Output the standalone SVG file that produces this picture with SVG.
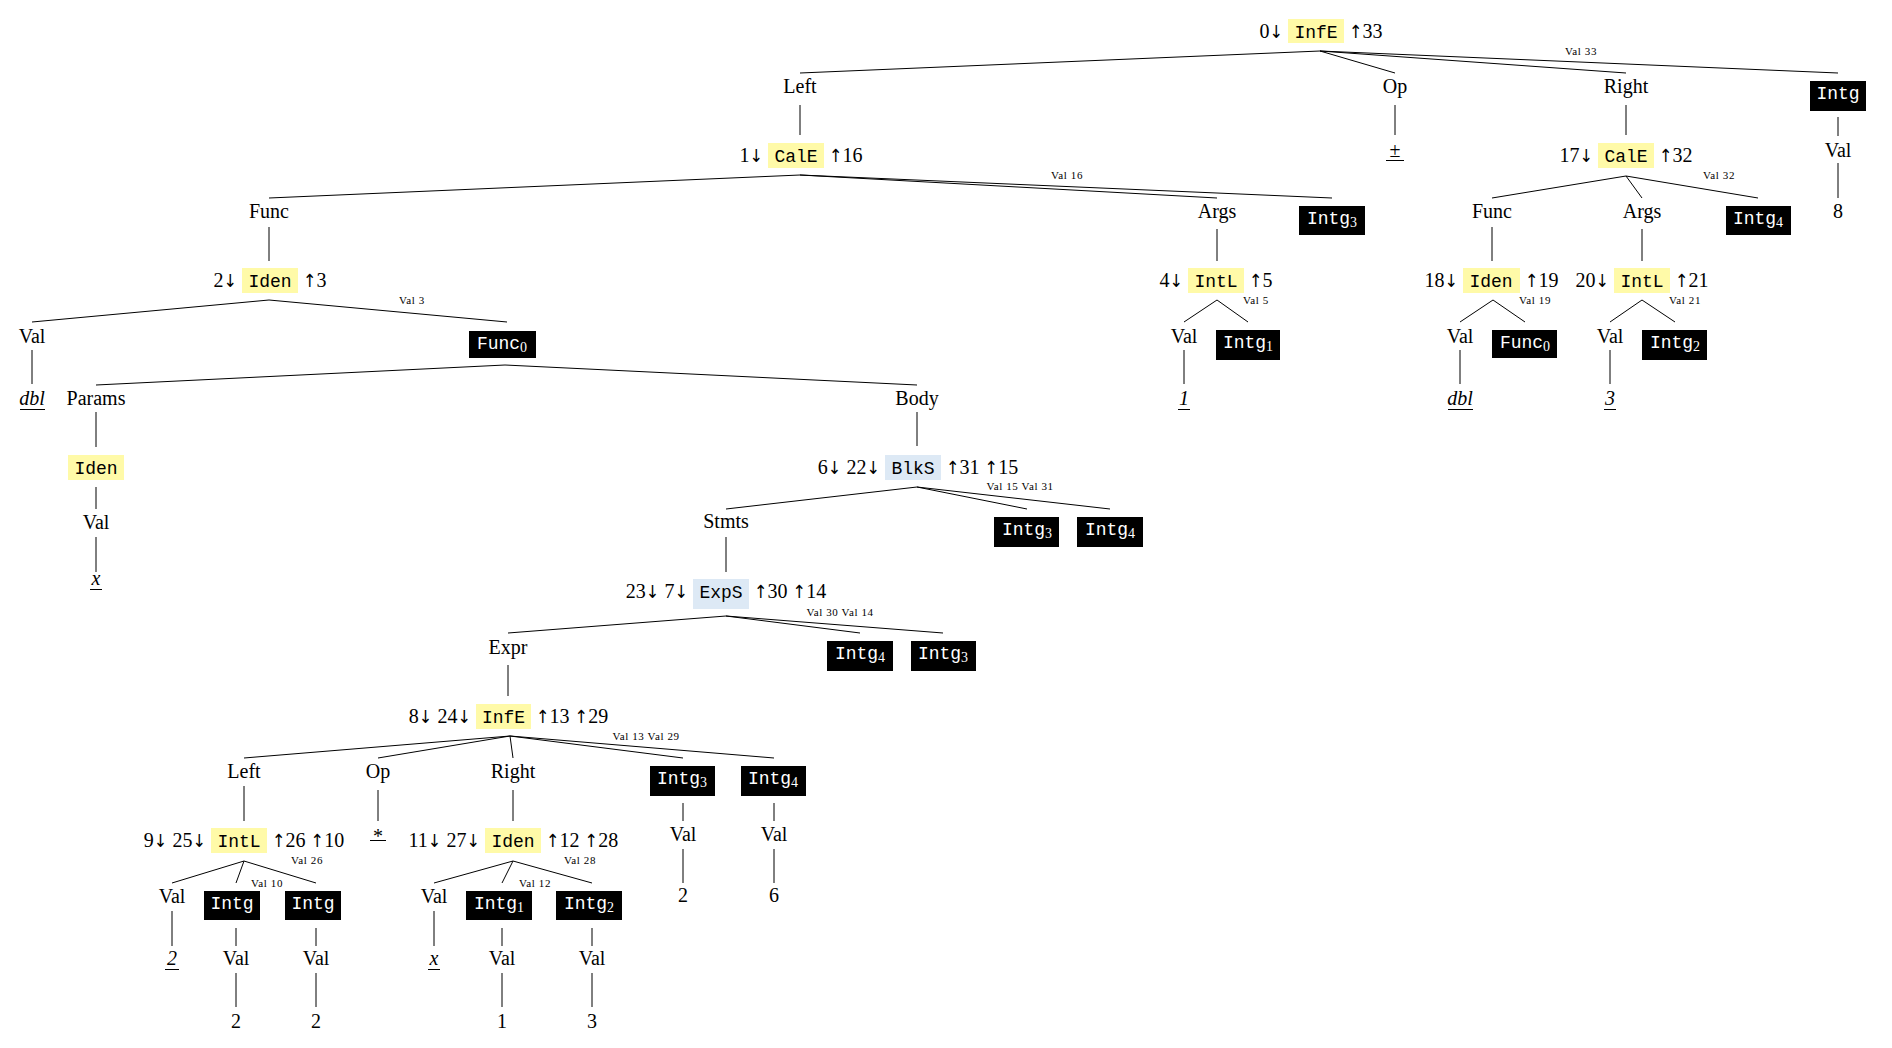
<svg xmlns="http://www.w3.org/2000/svg" width="1892" height="1048" viewBox="0 0 1892 1048">
<style>
.t{font-family:"Liberation Serif","Times New Roman",serif;font-size:20px;text-anchor:middle;fill:#000}
.l{font-family:"Liberation Serif","Times New Roman",serif;font-size:20px;text-anchor:end;fill:#000}
.r{font-family:"Liberation Serif","Times New Roman",serif;font-size:20px;text-anchor:start;fill:#000}
.a{font-family:"DejaVu Sans Condensed","DejaVu Sans",sans-serif;font-size:18px;font-weight:200}
.i{font-style:italic}
.tt{font-family:"Liberation Mono","Courier New",monospace;font-size:18px;text-anchor:middle;fill:#000}
.tw{font-family:"Liberation Mono","Courier New",monospace;font-size:18px;text-anchor:middle;fill:#fff}
.sub{font-family:"Liberation Serif","Times New Roman",serif;font-size:14px}
.s{font-family:"Liberation Serif","Times New Roman",serif;font-size:11px;text-anchor:middle;letter-spacing:0.6px;fill:#000}
.y{fill:#fffaa8}
.b{fill:#dde9f5}
.k{fill:#000}
.ln{stroke:#000;stroke-width:1;fill:none}
</style>
<rect width="1892" height="1048" fill="#fff"/>
<g id="connectors" class="ln">
<path d="M1320 51L800 73M1320 51L1395 73M1320 51L1626 73M1320 51L1838 73"/>
<path d="M800 105V135M1395 105V135M1626 105V135M1838 117V136M1838 163V198"/>
<path d="M800 175L269 198M800 175L1217 198M800 175L1332 198"/>
<path d="M1626 176L1492 198M1626 176L1642 198M1626 176L1758 198"/>
<path d="M269 227V261M1217 229V261M1492 227V261M1642 229V261"/>
<path d="M269 300L32 322M269 300L507 322"/>
<path d="M1217 300L1184 322M1217 300L1248 322"/>
<path d="M1493 300L1460 322M1493 300L1525 322"/>
<path d="M1642 300L1610 322M1642 300L1675 322"/>
<path d="M32 350V384M1184 350V384M1460 350V384M1610 350V384"/>
<path d="M505 365L96 385M505 365L917 385"/>
<path d="M96 412V447M917 412V446M96 487V509M96 537V572"/>
<path d="M917 487L726 509M917 487L1027 509M917 487L1110 509"/>
<path d="M726 537V572"/>
<path d="M726 616L508 633M726 616L860 633M726 616L943 633"/>
<path d="M508 665V696"/>
<path d="M510 736L244 758M510 736L378 758M510 736L513 758M510 736L683 758M510 736L774 758"/>
<path d="M244 786V821M378 790V821M513 790V821M683 803V821M774 803V821M683 849V883M774 849V883"/>
<path d="M244 861L172 883M244 861L236 883M244 861L316 883"/>
<path d="M513 861L434 883M513 861L502 883M513 861L592 883"/>
<path d="M172 911V946M236 928V946M316 928V946M434 911V946M502 928V946M592 928V946"/>
<path d="M236 973V1007M316 973V1007M502 973V1007M592 973V1007"/>
</g>
<g id="labels">
<text class="s" x="1581" y="55">Val 33</text>
<text class="s" x="1067" y="179">Val 16</text>
<text class="s" x="1719" y="179">Val 32</text>
<text class="s" x="412" y="304">Val 3</text>
<text class="s" x="1256" y="304">Val 5</text>
<text class="s" x="1535" y="304">Val 19</text>
<text class="s" x="1685" y="304">Val 21</text>
<text class="s" x="1020" y="490">Val 15 Val 31</text>
<text class="s" x="840" y="616">Val 30 Val 14</text>
<text class="s" x="646" y="740">Val 13 Val 29</text>
<text class="s" x="307" y="864">Val 26</text>
<text class="s" x="267" y="887">Val 10</text>
<text class="s" x="580" y="864">Val 28</text>
<text class="s" x="535" y="887">Val 12</text>
</g>
<g id="n0"><rect class="y" x="1288" y="19" width="56" height="24"/><text class="tt" x="1316" y="38">InfE</text><text class="l" x="1283" y="38">0<tspan class="a">↓</tspan></text><text class="r" x="1349" y="38"><tspan class="a">↑</tspan>33</text></g>
<g id="n-left1"><text class="t" x="800" y="93">Left</text></g>
<g id="n-op1"><text class="t" x="1395" y="93">Op</text></g>
<g id="n-right1"><text class="t" x="1626" y="93">Right</text></g>
<g id="n-intg-top"><rect class="k" x="1810" y="81" width="56" height="30"/><text class="tw" x="1838" y="99">Intg</text></g>
<g id="n1"><rect class="y" x="768" y="143" width="56" height="25"/><text class="tt" x="796" y="162">CalE</text><text class="l" x="763" y="162">1<tspan class="a">↓</tspan></text><text class="r" x="829" y="162"><tspan class="a">↑</tspan>16</text></g>
<g id="n-pm"><text class="t" x="1395" y="157">±</text><path class="ln" d="M1386 160.5H1404"/></g>
<g id="n17"><rect class="y" x="1598" y="143" width="56" height="25"/><text class="tt" x="1626" y="162">CalE</text><text class="l" x="1593" y="162">17<tspan class="a">↓</tspan></text><text class="r" x="1659" y="162"><tspan class="a">↑</tspan>32</text></g>
<g id="n-val-top"><text class="t" x="1838" y="157">Val</text></g>
<g id="n-8"><text class="t" x="1838" y="218">8</text></g>
<g id="n-func1"><text class="t" x="269" y="218">Func</text></g>
<g id="n-args1"><text class="t" x="1217" y="218">Args</text></g>
<g id="n-intg3a"><rect class="k" x="1299" y="206" width="66" height="29"/><text class="tw" x="1332" y="224">Intg<tspan class="sub" dy="3">3</tspan></text></g>
<g id="n-func2"><text class="t" x="1492" y="218">Func</text></g>
<g id="n-args2"><text class="t" x="1642" y="218">Args</text></g>
<g id="n-intg4a"><rect class="k" x="1726" y="206" width="65" height="29"/><text class="tw" x="1758" y="224">Intg<tspan class="sub" dy="3">4</tspan></text></g>
<g id="n2"><rect class="y" x="242" y="268" width="56" height="25"/><text class="tt" x="270" y="287">Iden</text><text class="l" x="237" y="287">2<tspan class="a">↓</tspan></text><text class="r" x="303" y="287"><tspan class="a">↑</tspan>3</text></g>
<g id="n4"><rect class="y" x="1188" y="268" width="56" height="25"/><text class="tt" x="1216" y="287">IntL</text><text class="l" x="1183" y="287">4<tspan class="a">↓</tspan></text><text class="r" x="1249" y="287"><tspan class="a">↑</tspan>5</text></g>
<g id="n18"><rect class="y" x="1463" y="268" width="57" height="25"/><text class="tt" x="1491" y="287">Iden</text><text class="l" x="1458" y="287">18<tspan class="a">↓</tspan></text><text class="r" x="1525" y="287"><tspan class="a">↑</tspan>19</text></g>
<g id="n20"><rect class="y" x="1614" y="268" width="56" height="25"/><text class="tt" x="1642" y="287">IntL</text><text class="l" x="1609" y="287">20<tspan class="a">↓</tspan></text><text class="r" x="1675" y="287"><tspan class="a">↑</tspan>21</text></g>
<g id="n-val2"><text class="t" x="32" y="343">Val</text></g>
<g id="n-func0a"><rect class="k" x="469" y="331" width="67" height="27"/><text class="tw" x="502" y="349">Func<tspan class="sub" dy="3">0</tspan></text></g>
<g id="n-val4"><text class="t" x="1184" y="343">Val</text></g>
<g id="n-intg1a"><rect class="k" x="1216" y="330" width="64" height="30"/><text class="tw" x="1248" y="348">Intg<tspan class="sub" dy="3">1</tspan></text></g>
<g id="n-val18"><text class="t" x="1460" y="343">Val</text></g>
<g id="n-func0b"><rect class="k" x="1492" y="330" width="65" height="28"/><text class="tw" x="1525" y="348">Func<tspan class="sub" dy="3">0</tspan></text></g>
<g id="n-val20"><text class="t" x="1610" y="343">Val</text></g>
<g id="n-intg2a"><rect class="k" x="1642" y="330" width="65" height="30"/><text class="tw" x="1675" y="348">Intg<tspan class="sub" dy="3">2</tspan></text></g>
<g id="n-dbl1"><text class="t i" x="32" y="405">dbl</text><path class="ln" d="M20 409.5H45"/></g>
<g id="n-params"><text class="t" x="96" y="405">Params</text></g>
<g id="n-body"><text class="t" x="917" y="405">Body</text></g>
<g id="n-one"><text class="t i" x="1184" y="405">1</text><path class="ln" d="M1178 409.5H1190"/></g>
<g id="n-dbl2"><text class="t i" x="1460" y="405">dbl</text><path class="ln" d="M1448 409.5H1473"/></g>
<g id="n-three"><text class="t i" x="1610" y="405">3</text><path class="ln" d="M1604 409.5H1616"/></g>
<g id="n-iden-p"><rect class="y" x="68" y="455" width="56" height="25"/><text class="tt" x="96" y="474">Iden</text></g>
<g id="n6"><rect class="b" x="885" y="455" width="56" height="25"/><text class="tt" x="913" y="474">BlkS</text><text class="l" x="880" y="474">6<tspan class="a">↓</tspan> 22<tspan class="a">↓</tspan></text><text class="r" x="946" y="474"><tspan class="a">↑</tspan>31 <tspan class="a">↑</tspan>15</text></g>
<g id="n-val-p"><text class="t" x="96" y="529">Val</text></g>
<g id="n-x1"><text class="t i" x="96" y="585">x</text><path class="ln" d="M90 589.5H102"/></g>
<g id="n-stmts"><text class="t" x="726" y="528">Stmts</text></g>
<g id="n-intg3b"><rect class="k" x="994" y="517" width="65" height="30"/><text class="tw" x="1027" y="535">Intg<tspan class="sub" dy="3">3</tspan></text></g>
<g id="n-intg4b"><rect class="k" x="1077" y="517" width="66" height="30"/><text class="tw" x="1110" y="535">Intg<tspan class="sub" dy="3">4</tspan></text></g>
<g id="n23"><rect class="b" x="693" y="579" width="56" height="30"/><text class="tt" x="721" y="598">ExpS</text><text class="l" x="688" y="598">23<tspan class="a">↓</tspan> 7<tspan class="a">↓</tspan></text><text class="r" x="754" y="598"><tspan class="a">↑</tspan>30 <tspan class="a">↑</tspan>14</text></g>
<g id="n-expr"><text class="t" x="508" y="654">Expr</text></g>
<g id="n-intg4c"><rect class="k" x="827" y="641" width="66" height="30"/><text class="tw" x="860" y="659">Intg<tspan class="sub" dy="3">4</tspan></text></g>
<g id="n-intg3c"><rect class="k" x="911" y="641" width="65" height="30"/><text class="tw" x="943" y="659">Intg<tspan class="sub" dy="3">3</tspan></text></g>
<g id="n8"><rect class="y" x="476" y="704" width="55" height="25"/><text class="tt" x="503.5" y="723">InfE</text><text class="l" x="471" y="723">8<tspan class="a">↓</tspan> 24<tspan class="a">↓</tspan></text><text class="r" x="536" y="723"><tspan class="a">↑</tspan>13 <tspan class="a">↑</tspan>29</text></g>
<g id="n-left2"><text class="t" x="244" y="778">Left</text></g>
<g id="n-op2"><text class="t" x="378" y="778">Op</text></g>
<g id="n-right2"><text class="t" x="513" y="778">Right</text></g>
<g id="n-intg3d"><rect class="k" x="650" y="766" width="65" height="30"/><text class="tw" x="682" y="784">Intg<tspan class="sub" dy="3">3</tspan></text></g>
<g id="n-intg4d"><rect class="k" x="741" y="766" width="65" height="30"/><text class="tw" x="773" y="784">Intg<tspan class="sub" dy="3">4</tspan></text></g>
<g id="n9"><rect class="y" x="211" y="828" width="56" height="25"/><text class="tt" x="239" y="847">IntL</text><text class="l" x="206" y="847">9<tspan class="a">↓</tspan> 25<tspan class="a">↓</tspan></text><text class="r" x="272" y="847"><tspan class="a">↑</tspan>26 <tspan class="a">↑</tspan>10</text></g>
<g id="n-star"><text class="t" x="378" y="843">*</text><path class="ln" d="M370 840.5H386"/></g>
<g id="n11"><rect class="y" x="485" y="828" width="56" height="25"/><text class="tt" x="513" y="847">Iden</text><text class="l" x="480" y="847">11<tspan class="a">↓</tspan> 27<tspan class="a">↓</tspan></text><text class="r" x="546" y="847"><tspan class="a">↑</tspan>12 <tspan class="a">↑</tspan>28</text></g>
<g id="n-val-i3"><text class="t" x="683" y="841">Val</text></g>
<g id="n-val-i4"><text class="t" x="774" y="841">Val</text></g>
<g id="n-two-a"><text class="t" x="683" y="902">2</text></g>
<g id="n-six"><text class="t" x="774" y="902">6</text></g>
<g id="n-val9"><text class="t" x="172" y="903">Val</text></g>
<g id="n-intg-a"><rect class="k" x="204" y="891" width="56" height="29"/><text class="tw" x="232" y="909">Intg</text></g>
<g id="n-intg-b"><rect class="k" x="285" y="891" width="56" height="29"/><text class="tw" x="313" y="909">Intg</text></g>
<g id="n-val11"><text class="t" x="434" y="903">Val</text></g>
<g id="n-intg1b"><rect class="k" x="466" y="891" width="66" height="29"/><text class="tw" x="499" y="909">Intg<tspan class="sub" dy="3">1</tspan></text></g>
<g id="n-intg2b"><rect class="k" x="556" y="891" width="66" height="29"/><text class="tw" x="589" y="909">Intg<tspan class="sub" dy="3">2</tspan></text></g>
<g id="n-two-it"><text class="t i" x="172" y="965">2</text><path class="ln" d="M165 969.5H179"/></g>
<g id="n-val-a"><text class="t" x="236" y="965">Val</text></g>
<g id="n-val-b"><text class="t" x="316" y="965">Val</text></g>
<g id="n-x2"><text class="t i" x="434" y="965">x</text><path class="ln" d="M428 969.5H440"/></g>
<g id="n-val-c"><text class="t" x="502" y="965">Val</text></g>
<g id="n-val-d"><text class="t" x="592" y="965">Val</text></g>
<g id="n-2b"><text class="t" x="236" y="1028">2</text></g>
<g id="n-2c"><text class="t" x="316" y="1028">2</text></g>
<g id="n-1b"><text class="t" x="502" y="1028">1</text></g>
<g id="n-3b"><text class="t" x="592" y="1028">3</text></g>
</svg>
